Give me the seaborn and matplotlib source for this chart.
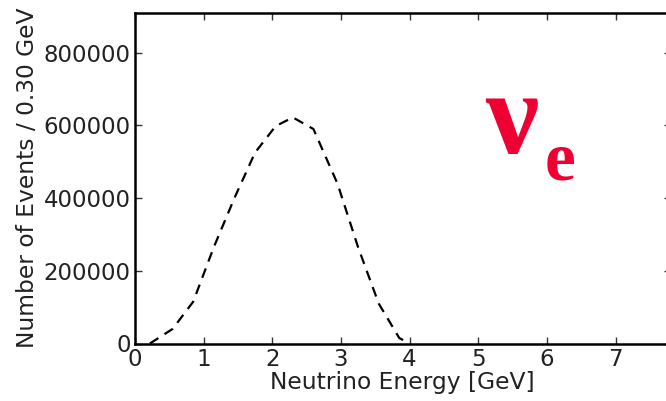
import numpy as np
import pandas as pd
import seaborn as sns
import matplotlib.pyplot as plt

# spectre nu_e, evenements par bin de 0.30 GeV
energie = [0.22, 0.55, 0.85, 1.15, 1.45, 1.75, 2.05, 2.30, 2.60, 2.95, 3.25, 3.55, 3.85, 4.00]
evenements = [0, 40000, 115000, 265000, 400000, 525000, 598000, 622000, 590000, 440000, 265000, 110000, 15000, 0]

x_ticks = [0, 1, 2, 3, 4, 5, 6, 7]
y_ticks = [0, 200000, 400000, 600000, 800000]

df = pd.DataFrame({"energie": energie, "evenements": evenements})

sns.set_style("ticks")
plt.rcParams['font.family'] = ['DejaVu Sans']

fig = plt.figure(figsize=(6.66, 4.01), dpi=100)
# axe droit hors de l'image (coupe comme la reference)
ax = fig.add_axes([134.8 / 666, 57.5 / 401, 536 / 666, 331 / 401])

sns.lineplot(data=df, x="energie", y="evenements", ax=ax,
             color="black", linestyle=(0, (4.5, 3.3)), linewidth=1.6)

ax.set_xlim(0, 536 / 68.7)
ax.set_ylim(0, 910600)
ax.set_xticks(x_ticks)
ax.set_yticks(y_ticks)
ax.ticklabel_format(style="plain", axis="y")
ax.tick_params(direction="in", length=5, width=1, top=True, right=True,
               labelsize=16.5, colors="#333333", labelcolor="#222222", pad=3)
for s in ax.spines.values():
    s.set_linewidth(1.8)
    s.set_color("black")

ax.set_xlabel("Neutrino Energy [GeV]", fontsize=16.8, color="#222222", labelpad=0)
ax.set_ylabel("Number of Events / 0.30 GeV", fontsize=16.8, color="#222222", labelpad=3)

# etiquette nu_e en rouge
fig.text(485 / 666, 1 - 153 / 401, "ν", fontsize=86, fontweight="bold",
         family="Liberation Serif", color="#ee0033")
fig.text(545 / 666, 1 - 179 / 401, "e", fontsize=50, fontweight="bold",
         family="Liberation Serif", color="#ee0033")

fig.savefig("out.png", dpi=100)
